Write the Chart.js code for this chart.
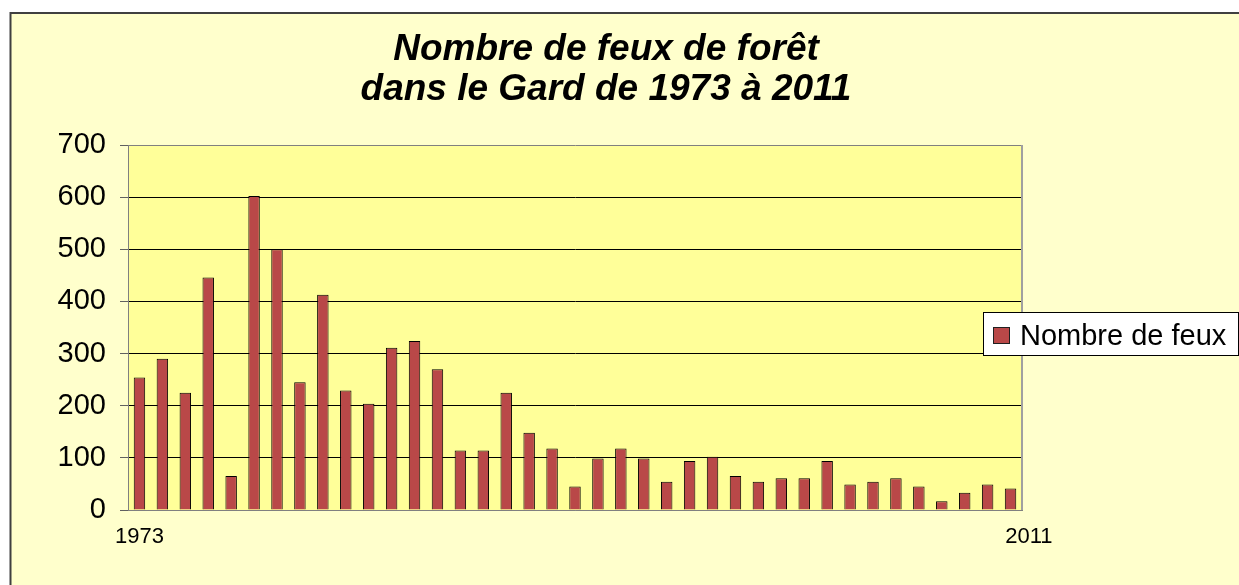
<!DOCTYPE html>
<html lang="fr">
<head>
<meta charset="utf-8">
<title>Nombre de feux de forêt dans le Gard</title>
<script src="https://cdn.jsdelivr.net/npm/chart.js@4/dist/chart.umd.min.js"></script>
<style>
  html, body { margin: 0; padding: 0; background: #ffffff; }
  #chartBox { position: absolute; left: 0; top: 0; width: 1239px; height: 585px; }
</style>
</head>
<body>
<div id="chartBox"><canvas id="fireChart" width="1239" height="585"></canvas></div>
<script>
// Chart data
const titleLines = ["Nombre de feux de forêt", "dans le Gard de 1973 à 2011"];
const seriesLabel = "Nombre de feux";

const years = [
  "1973", "1974", "1975", "1976", "1977", "1978", "1979", "1980", "1981", "1982",
  "1983", "1984", "1985", "1986", "1987", "1988", "1989", "1990", "1991", "1992",
  "1993", "1994", "1995", "1996", "1997", "1998", "1999", "2000", "2001", "2002",
  "2003", "2004", "2005", "2006", "2007", "2008", "2009", "2010", "2011"
];
const fireCounts = [
  254, 290, 225, 446, 65, 602, 500, 245, 413, 229,
  204, 311, 324, 270, 114, 114, 225, 148, 118, 45,
  99, 118, 99, 54, 94, 102, 65, 54, 61, 61,
  94, 49, 54, 61, 45, 17, 33, 49, 41
];
const yTickValues = [0, 100, 200, 300, 400, 500, 600, 700];
const shownYearLabels = ["1973", "2011"];

// Colours and fonts
const FONT = '"Liberation Sans", Arial, sans-serif';
const BAR_COLOR = "#B94848";
const FRAME_BG = "#FFFFCC";
const PLOT_BG = "#FFFF99";

// Outer frame + plot background, drawn before everything else
const backgroundPlugin = {
  id: "frameBackground",
  beforeDraw(chart) {
    const ctx = chart.ctx;
    const area = chart.chartArea;
    ctx.save();
    ctx.fillStyle = FRAME_BG;
    ctx.fillRect(10, 13, chart.width, chart.height);
    ctx.strokeStyle = "#404040";
    ctx.lineWidth = 2;
    ctx.strokeRect(10.5, 13, chart.width + 20, chart.height + 20);
    ctx.fillStyle = PLOT_BG;
    ctx.fillRect(area.left, area.top, area.right - area.left, area.bottom - area.top);
    ctx.restore();
  },
  afterDatasetsDraw(chart) {
    // grey right edge of the plot area
    const ctx = chart.ctx;
    const area = chart.chartArea;
    ctx.save();
    ctx.strokeStyle = "#A0A0A0";
    ctx.lineWidth = 2;
    ctx.beginPath();
    ctx.moveTo(area.right, area.top);
    ctx.lineTo(area.right, area.bottom);
    ctx.stroke();
    ctx.restore();
  }
};

// Title and boxed legend (the legend sits over the plot's right edge)
const titleLegendPlugin = {
  id: "titleLegend",
  afterDraw(chart) {
    const ctx = chart.ctx;
    ctx.save();
    ctx.fillStyle = "#000000";
    ctx.textAlign = "center";
    ctx.textBaseline = "alphabetic";
    ctx.font = "italic bold 37px " + FONT;
    ctx.fillText(titleLines[0], 606, 60);
    ctx.fillText(titleLines[1], 606, 100);

    // legend box
    ctx.fillStyle = "#FFFFFF";
    ctx.fillRect(983, 312, 256, 44);
    ctx.strokeStyle = "#000000";
    ctx.lineWidth = 1;
    ctx.strokeRect(983.5, 312.5, 255, 43);
    ctx.fillStyle = BAR_COLOR;
    ctx.fillRect(993, 327, 17, 17);
    ctx.strokeStyle = "#202020";
    ctx.strokeRect(993.5, 327.5, 16, 16);
    ctx.fillStyle = "#000000";
    ctx.textAlign = "left";
    ctx.font = "29px " + FONT;
    ctx.fillText(chart.data.datasets[0].label, 1020, 345);
    ctx.restore();
  }
};

const ctx = document.getElementById("fireChart");

new Chart(ctx, {
  type: "bar",
  data: {
    labels: years,
    datasets: [
      {
        label: seriesLabel,
        data: fireCounts,
        backgroundColor: BAR_COLOR,
        borderColor: "#000000",
        borderWidth: 1,
        barPercentage: 0.5,
        categoryPercentage: 1.0,
      },
    ],
  },
  options: {
    responsive: false,
    animation: false,
    devicePixelRatio: 1,
    layout: {
      padding: { left: 0, right: 217, top: 145, bottom: 0 },
    },
    plugins: {
      legend: { display: false },
      title: { display: false },
      tooltip: { enabled: false },
    },
    scales: {
      x: {
        grid: { display: false, drawTicks: false },
        border: { display: true, color: "#808080", width: 1 },
        afterFit: function (scale) {
          scale.height = 75;
        },
        ticks: {
          autoSkip: false,
          maxRotation: 0,
          padding: 14,
          color: "#000000",
          font: { family: FONT, size: 22 },
          callback: function (value, index) {
            const label = years[index];
            if (label === shownYearLabels[0]) return label;
            // last label sits a bit right of its bar, as in the original
            if (label === shownYearLabels[1]) return "      " + label;
            return "";
          },
        },
      },
      y: {
        min: 0,
        max: 700,
        afterBuildTicks: function (scale) {
          scale.ticks = yTickValues.map(function (v) {
            return { value: v };
          });
        },
        afterFit: function (scale) {
          scale.width = 128;
        },
        grid: {
          color: function (c) {
            const v = c.tick ? c.tick.value : null;
            return v === 0 || v === 700 ? "#808080" : "#000000";
          },
          tickColor: "#606060",
          tickLength: 8,
          lineWidth: 1,
        },
        border: { display: true, color: "#808080", width: 1 },
        ticks: {
          padding: 14,
          color: "#000000",
          font: { family: FONT, size: 29 },
        },
      },
    },
  },
  plugins: [backgroundPlugin, titleLegendPlugin],
});
</script>
</body>
</html>
